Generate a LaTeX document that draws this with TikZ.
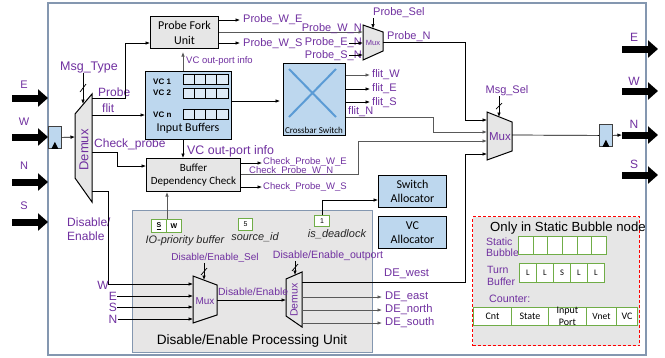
\documentclass[tikz,border=0pt]{standalone}
\usepackage{fontspec}
\setmainfont{Liberation Sans}
\newfontfamily\blockfont{Carlito}
\usetikzlibrary{arrows.meta,calc}
\definecolor{vio}{HTML}{7030A0}
\definecolor{lblue}{HTML}{BDD7EE}
\definecolor{cellblue}{HTML}{DEEBF7}
\definecolor{boxgray}{HTML}{E6E6E6}
\definecolor{deugray}{HTML}{E7E6E6}
\definecolor{frameblue}{HTML}{8497B0}
\definecolor{cellgreen}{HTML}{70AD47}
\definecolor{xblue}{HTML}{5B9BD5}
\definecolor{wiregray}{HTML}{595959}
\definecolor{inkdark}{HTML}{262626}
\newcommand\fz[1]{\fontsize{#1}{#1}\selectfont}
\begin{document}
\begin{tikzpicture}[x=1pt,y=-1pt,
  lab/.style={inner sep=0pt, text=vio},
  blk/.style={draw=black, line width=1pt, inner sep=0pt, align=center, anchor=north west},
  wire/.style={draw=black, line width=0.7pt},
  gwire/.style={draw=wiregray, line width=0.8pt},
  tip/.style={-{Latex[length=4.5pt,width=3.6pt]}},
  mux/.style={draw=black, fill=boxgray, line width=1pt, line join=miter},
  cell/.style={draw=cellgreen, fill=white, line width=1pt, inner sep=0pt, anchor=north west},
  fat/.style={line width=7pt, -{Triangle[length=10pt,width=17pt]}},
  reg/.style={draw=darkgray, fill=lblue, line width=0.8pt, inner sep=0pt, anchor=north west, minimum width=13pt, minimum height=22pt},
]
\useasboundingbox (0,0) rectangle (665,357);
\fill[white] (0,0) rectangle (665,357);

% router frame
\draw[frameblue, line width=1.2pt] (48,3) rectangle (646,355);

% input ports
\foreach \yy/\ll/\ly in {98/E/85,137/W/122,182/N/166,222/S/206}{
  \coordinate (inA\ll) at (12,\yy);
  \coordinate (inB\ll) at (48,\yy);
  \draw[fat] (inA\ll) -- (inB\ll);
  \node[lab,font=\fz{11}] (il\ll) at (24,\ly) {\ll};
}
% output ports
\foreach \yy/\ll/\ly in {49/E/37,91/W/81,135/N/124,175/S/164}{
  \coordinate (os\ll) at (622,\yy);
  \coordinate (od\ll) at (658,\yy);
  \draw[fat] (os\ll) -- (od\ll);
  \node[lab,font=\fz{12}] (ol\ll) at (634,\ly) {\ll};
}

% input register
\node[reg] (rin) at (48,126) {};
\fill ($(rin.south)+(-3.5,0)$) -- ($(rin.south)+(0,-7)$) -- ($(rin.south)+(3.5,0)$) -- cycle;

% input demux
\draw[mux] (75,114) -- (92,94) -- (92,202) -- (75,178) -- cycle;
\node[lab,rotate=90,font=\fz{13}] (dmxT) at (84,150) {Demux};
\coordinate (dmxIn) at (75,137);
\coordinate (dmxSel) at (83,104);
\coordinate (dmxP) at (92,98);
\coordinate (dmxF) at (92,115);
\coordinate (dmxC) at (92,152);
\coordinate (dmxD) at (92,191);
\draw[wire,tip] (rin.east) -- (dmxIn);
\node[lab,font=\fz{12.5}] (msgT) at (89,67) {Msg\_Type};
\draw[wire,tip] (msgT.south -| dmxSel) -- (dmxSel);
\draw[wire] (80,92) -- (86,84);

\node[lab,font=\fz{12},anchor=west] (lProbe) at (98,92) {Probe};
\node[lab,font=\fz{12},anchor=west] (lFlit) at (102,108) {flit};
\node[lab,font=\fz{12},anchor=west] (lChk) at (94,144) {Check\_probe};
\node[lab,font=\fontsize{12}{14}\selectfont,align=left,anchor=west] (lDE) at (67,229) {Disable/\\Enable};

% main blocks
\node[blk, fill=boxgray, minimum width=68pt, minimum height=32pt, font=\blockfont\fontsize{12}{15}\selectfont] (pfu) at (150,16) {Probe Fork\\Unit};
\node[blk, fill=lblue, line width=1.2pt, minimum width=86pt, minimum height=68pt] (ib) at (145,71) {};
\node[font=\blockfont\fz{12}, inner sep=0pt] (ibT) at (188,128) {Input Buffers};
\node[font=\bfseries\fz{8}, anchor=west, inner sep=0pt] (vc1) at (153,82) {VC 1};
\node[font=\bfseries\fz{8}, anchor=west, inner sep=0pt] (vc2) at (153,93) {VC 2};
\node[font=\bfseries\fz{8}, anchor=west, inner sep=0pt] (vcn) at (153,115) {VC n};
\foreach \r in {74,88,109}{
  \foreach \c in {0,...,3}{
    \draw[draw=black, fill=cellblue, line width=0.9pt] ({183+11.25*\c},\r) rectangle ++(11.25,10);
  }
}

\node[blk, fill=lblue, line width=1.2pt, minimum width=62pt, minimum height=72pt] (xbar) at (283,63) {};
\draw[xblue, line width=2pt] (289,69) -- (336,117) (336,69) -- (289,117);
\node[font=\blockfont\fz{9}, inner sep=0pt] (xbarT) at (314,130) {Crossbar Switch};

\node[blk, fill=boxgray, minimum width=94pt, minimum height=33pt, font=\blockfont\fontsize{11}{13.5}\selectfont] (bdc) at (146,158) {Buffer\\Dependency Check};
\node[blk, fill=lblue, minimum width=68pt, minimum height=32pt, font=\blockfont\fontsize{12}{14}\selectfont] (sa) at (378,175) {Switch\\Allocator};
\node[blk, fill=lblue, minimum width=68pt, minimum height=32pt, font=\blockfont\fontsize{12}{14}\selectfont] (vca) at (378,216) {VC\\Allocator};

% disable/enable processing unit
\node[blk, draw=frameblue, fill=deugray, line width=1.2pt, minimum width=240pt, minimum height=142pt] (deu) at (132,210) {};
\node[inner sep=0pt, font=\fz{13.6}] (deuT) at (252,341) {Disable/Enable Processing Unit};

% static bubble extras
\node[blk, draw=red, dash pattern=on 3pt off 2pt, fill=boxgray, line width=1pt, minimum width=167pt, minimum height=129pt] (sbn) at (472,216) {};
\node[inner sep=0pt, font=\fz{13.2}] (sbnT) at (568,228) {Only in Static Bubble node};
\node[lab,font=\fontsize{10.5}{11.5}\selectfont,align=left,anchor=west] (lSB) at (486,247) {Static\\Bubble};
\foreach \i in {0,...,5}{
  \node[cell,minimum width=14.67pt,minimum height=18pt] (sb\i) at ({518+14.67*\i},236) {};
}
\node[lab,font=\fontsize{10.5}{11.5}\selectfont,align=left,anchor=west] (lTB) at (487,276) {Turn\\Buffer};
\foreach \i/\t in {0/L,1/L,2/S,3/L,4/L}{
  \node[cell,minimum width=17pt,minimum height=19pt,font=\blockfont\fz{8.5}] (tb\i) at ({519+17*\i},263) {\t};
}
\node[lab,font=\fz{10.7},anchor=west] (lCnt) at (489,299) {Counter:};
\node[cell,minimum width=38pt,minimum height=18pt,font=\blockfont\fz{10}] (cn0) at (473,307) {Cnt};
\node[cell,minimum width=37pt,minimum height=18pt,font=\blockfont\fz{10}] (cn1) at (511,307) {State};
\node[cell,minimum width=38pt,minimum height=18pt,align=center,font=\blockfont\fontsize{10}{11.5}\selectfont] (cn2) at (548,307) {Input\\Port};
\node[cell,minimum width=30pt,minimum height=18pt,font=\blockfont\fz{9.5}] (cn3) at (586,307) {Vnet};
\node[cell,minimum width=21pt,minimum height=18pt,font=\blockfont\fz{10}] (cn4) at (616,307) {VC};

% demux outputs
\draw[wire,tip] (dmxP) -- (125,98) -- (125,43) -- (pfu.west |- 0,43);
\draw[wire,tip] (dmxF) -- (ib.west |- dmxF);
\draw[wire,tip] (dmxC) -- (117,152) -- (117,166) -- (bdc.west |- 0,166);

% probe fork unit outputs
\draw[wire,tip] (pfu.east |- 0,20) -- (240,20);
\node[lab,font=\fz{11},anchor=west] (lPWE) at (243,20) {Probe\_W\_E};
\draw[wire,tip] (pfu.east |- 0,43) -- (240,43);
\node[lab,font=\fz{11},anchor=west] (lPWS) at (243,44) {Probe\_W\_S};

% probe mux
\draw[mux] (363,25) -- (383,32) -- (383,51) -- (363,60) -- cycle;
\node[lab,font=\fz{7.5}] (pmxT) at (373,43) {Mux};
\coordinate (pmxW) at (363,32);
\coordinate (pmxE) at (363,43);
\coordinate (pmxS) at (363,55);
\coordinate (pmxO) at (383,42);
\coordinate (pmxSel) at (373,28.5);
\draw[gwire,tip] (pfu.east |- 0,32) -- (pmxW);
\node[lab,font=\fz{11},anchor=east] (lPWN) at (362,29) {Probe\_W\_N};
\node[lab,font=\fz{11},anchor=east] (lPEN) at (362,43) {Probe\_E\_N};
\draw[wire,tip] (349,43) -- (pmxE);
\node[lab,font=\fz{11},anchor=east] (lPSN) at (362,56) {Probe\_S\_N};
\draw[wire,tip] (349,55) -- (pmxS);
\node[lab,font=\fz{11},anchor=west] (lPS) at (373,13) {Probe\_Sel};
\draw[wire,tip] (lPS.south -| pmxSel) -- (pmxSel);

% big output mux
\draw[mux] (487,112) -- (512,122) -- (512,151) -- (487,160) -- cycle;
\node[lab,font=\fz{11.5}] (bmxT) at (500,137) {Mux};
\coordinate (bmxP) at (487,120);
\coordinate (bmxF) at (487,132);
\coordinate (bmxC) at (487,141);
\coordinate (bmxD) at (487,154);
\coordinate (bmxO) at (512,135);
\coordinate (bmxSel) at (499,117);
\node[lab,font=\fz{11}] (lMS) at (507,91) {Msg\_Sel};
\draw[wire,tip] (lMS.south -| bmxSel) -- (bmxSel);
\draw[wire] (496,109) -- (502,103);

\draw[wire,tip] (pmxO) -- (465,42) -- (465,120) -- (bmxP);
\node[lab,font=\fz{11},anchor=west] (lPN) at (387,37) {Probe\_N};

% output register
\node[reg] (rout) at (599,124) {};
\fill ($(rout.south)+(-3.5,0)$) -- ($(rout.south)+(0,-7)$) -- ($(rout.south)+(3.5,0)$) -- cycle;
\draw[wire] (bmxO) -- (rout.west);
\draw[wire,tip] (rout.east) -- (osN);

% input buffers and crossbar
\draw[wire,tip,shorten >=3pt] (ib.east |- 0,101) -- (xbar.west |- 0,101);
\draw[gwire,tip,shorten >=3pt] (ib.north -| 183,0) -- (pfu.south -| 183,0);
\node[lab,font=\fz{9.5},anchor=west] (lVCt) at (186,61) {VC out-port info};
\draw[wire,tip] (ib.south -| 183,0) -- (bdc.north -| 183,0);
\node[lab,font=\fz{12.4},anchor=west] (lVCb) at (187,151) {VC out-port info};

\draw[gwire,tip] (xbar.east |- 0,75) -- (370,75);
\node[lab,font=\fz{11},anchor=west] (lfW) at (372,75) {flit\_W};
\draw[wire,tip] (xbar.east |- 0,89) -- (370,89);
\node[lab,font=\fz{11},anchor=west] (lfE) at (372,89) {flit\_E};
\draw[wire,tip] (xbar.east |- 0,102) -- (370,102);
\node[lab,font=\fz{11},anchor=west] (lfS) at (372,103) {flit\_S};
\draw[gwire,tip] (xbar.east |- 0,117) -- (433,117) -- (433,132) -- (bmxF);
\node[lab,font=\fz{11},anchor=west] (lfN) at (348,112) {flit\_N};

% buffer dependency check outputs
\draw[wire,tip] (bdc.east |- 0,163) -- (262,163);
\node[lab,font=\fz{9.5},anchor=west] (lCWE) at (263,162) {Check\_Probe\_W\_E};
\draw[gwire,tip] (bdc.east |- 0,174) -- (358,174) -- (358,141) -- (bmxC);
\node[lab,font=\fz{9.5},anchor=west] (lCWN) at (249,171) {Check\_Probe\_W\_N};
\draw[wire,tip] (bdc.east |- 0,187) -- (262,187);
\node[lab,font=\fz{9.5},anchor=west] (lCWS) at (263,187) {Check\_Probe\_W\_S};

% registers inside the processing unit
\node[cell,minimum width=15pt,minimum height=13pt,font=\bfseries\fz{7}] (ioS) at (151,219) {\underline{S}};
\node[cell,minimum width=15pt,minimum height=13pt,font=\bfseries\fz{7}] (ioW) at (166,219) {W};
\draw[gwire,tip] (ioS.north east) -- (bdc.south -| ioS.north east);
\node[font=\itshape\fz{10.9},inner sep=0pt,text=inkdark] (lIO) at (185,241) {IO-priority buffer};
\node[cell,minimum width=14pt,minimum height=12pt,font=\fz{7}] (src) at (238,218) {5};
\node[font=\itshape\fz{10.9},inner sep=0pt,text=inkdark] (lsrc) at (255,237) {source\_id};
\node[cell,minimum width=15pt,minimum height=11pt,font=\fz{7}] (isd) at (314,215) {1};
\node[font=\itshape\fz{11},inner sep=0pt,text=inkdark] (lisd) at (337,234) {is\_deadlock};
\draw[wire,tip] (isd.north) -- (isd.north |- 0,200) -- (sa.west |- 0,200);

% disable/enable mux
\draw[mux] (193,276) -- (217,285) -- (217,315) -- (193,323) -- cycle;
\node[lab,font=\fz{10}] (mxT) at (205,301) {Mux};
\coordinate (mxW) at (193,284);
\coordinate (mxE) at (193,296);
\coordinate (mxS) at (193,307);
\coordinate (mxN) at (193,319);
\coordinate (mxO) at (217,300);
\coordinate (mxSel) at (204,280);
\node[lab,font=\fz{10}] (lDES) at (215,258) {Disable/Enable\_Sel};
\draw[wire,tip] (lDES.south -| mxSel) -- (mxSel);
\draw[wire] (201,275) -- (207,268);
\draw[wire,tip] (dmxD) -- (108,191) -- (108,284) -- (mxW);
\node[lab,font=\fz{12}] (lW) at (103,285) {W};
\foreach \p/\yy in {E/296,S/307,N/319}{
  \node[lab,font=\fz{12}] (lIn\p) at (113,\yy) {\p};
  \draw[wire,tip] (lIn\p.east) -- (mx\p);
}

% disable/enable demux
\draw[mux] (286,279) -- (302,272) -- (302,327) -- (286,316) -- cycle;
\node[lab,rotate=90,font=\fz{10.5}] (dxT) at (294,300) {Demux};
\coordinate (dxIn) at (286,300);
\coordinate (dxSel) at (295,275);
\coordinate (dxwest) at (302,282);
\draw[wire,tip] (mxO) -- (dxIn);
\node[lab,font=\fz{10.4},anchor=west] (lDEm) at (218,292) {Disable/Enable};
\node[lab,font=\fz{10.6}] (lDEo) at (328,256) {Disable/Enable\_outport};
\draw[wire,tip] (lDEo.south -| dxSel) -- (dxSel);
\draw[wire] (292,271) -- (298,264);
\draw[wire,tip] (dxwest) -- (465,282) -- (465,154) -- (bmxD);
\node[lab,font=\fz{11.2},anchor=west] (lDEw) at (384,274) {DE\_west};
\foreach \n/\yy in {east/297,north/310,south/323}{
  \coordinate (dx\n) at (302,\yy);
  \draw[gwire,tip] (dx\n) -- (382,\yy);
  \node[lab,font=\fz{11.2},anchor=west] (lDE\n) at (385,\yy) {DE\_\n};
}
\end{tikzpicture}
\end{document}
